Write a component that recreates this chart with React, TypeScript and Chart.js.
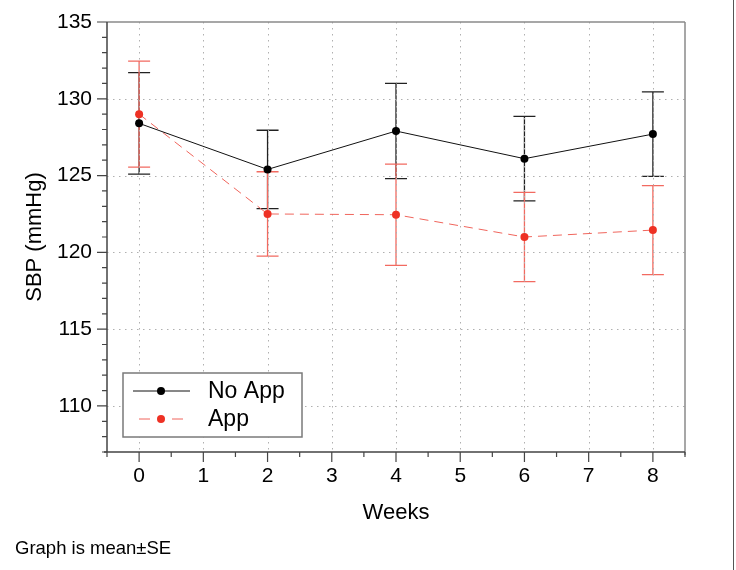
import React, { useEffect, useRef } from "react";
import { Chart, registerables } from "chart.js";

Chart.register(...registerables);

const weeks = [0, 2, 4, 6, 8];
const noAppMean = [128.4, 125.4, 127.9, 126.1, 127.7];
const noAppSE = [3.3, 2.55, 3.1, 2.75, 2.75];
const appMean = [129.0, 122.5, 122.45, 121.0, 121.45];
const appSE = [3.45, 2.75, 3.3, 2.9, 2.9];
const seriesNames = ["No App", "App"];
const xTickValues = [0, 1, 2, 3, 4, 5, 6, 7, 8];
const yTickValues = [110, 115, 120, 125, 130, 135];
const xTitle = "Weeks";
const yTitle = "SBP (mmHg)";
const footnote = "Graph is mean\u00b1SE";

const FONT = "'Liberation Sans', Arial, Helvetica, sans-serif";
const BLACK = "#111111";
const RED_LINE = "#f0655c";
const RED_PT = "#ee3124";
const RED_BAR = "#f26a60";

const errorBarsPlugin = {
  id: "errorBars",
  beforeDatasetsDraw(chart: any) {
    const { ctx, scales } = chart;
    const xs = scales.x;
    const ys = scales.y;
    const sets = [
      { m: noAppMean, se: noAppSE, c: "#222222" },
      { m: appMean, se: appSE, c: RED_BAR },
    ];
    ctx.save();
    for (const s of sets) {
      ctx.strokeStyle = s.c;
      ctx.lineWidth = 1.3;
      for (let i = 0; i < weeks.length; i++) {
        const x = xs.getPixelForValue(weeks[i]);
        const yt = ys.getPixelForValue(s.m[i] + s.se[i]);
        const yb = ys.getPixelForValue(s.m[i] - s.se[i]);
        ctx.beginPath();
        ctx.moveTo(x, yt);
        ctx.lineTo(x, yb);
        ctx.moveTo(x - 11, yt);
        ctx.lineTo(x + 11, yt);
        ctx.moveTo(x - 11, yb);
        ctx.lineTo(x + 11, yb);
        ctx.stroke();
      }
    }
    ctx.restore();
  },
};

const framePlugin = {
  id: "frame",
  beforeDatasetsDraw(chart: any) {
    const { ctx, chartArea: a, scales } = chart;
    const xs = scales.x;
    const ys = scales.y;
    ctx.save();
    ctx.strokeStyle = "#b0b0b0";
    ctx.lineWidth = 1;
    ctx.setLineDash([1.5, 4.5]);
    for (const v of xTickValues) {
      const x = Math.round(xs.getPixelForValue(v)) + 0.5;
      ctx.beginPath();
      ctx.moveTo(x, a.top);
      ctx.lineTo(x, a.bottom);
      ctx.stroke();
    }
    for (const v of yTickValues) {
      if (v === 135) continue;
      const y = Math.round(ys.getPixelForValue(v)) + 0.5;
      ctx.beginPath();
      ctx.moveTo(a.left, y);
      ctx.lineTo(a.right, y);
      ctx.stroke();
    }
    ctx.restore();
  },
  afterDraw(chart: any) {
    const { ctx, chartArea: a, scales } = chart;
    const xs = scales.x;
    const ys = scales.y;
    ctx.save();
    // top and right frame
    ctx.strokeStyle = "#8a8a8a";
    ctx.lineWidth = 1.5;
    ctx.beginPath();
    ctx.moveTo(a.left, a.top);
    ctx.lineTo(a.right, a.top);
    ctx.moveTo(a.right, a.top);
    ctx.lineTo(a.right, a.bottom + 3);
    ctx.stroke();
    // axes
    ctx.strokeStyle = "#444444";
    ctx.lineWidth = 1.5;
    ctx.beginPath();
    ctx.moveTo(a.left, a.top);
    ctx.lineTo(a.left, a.bottom);
    ctx.moveTo(a.left - 3, a.bottom);
    ctx.lineTo(a.right, a.bottom);
    ctx.stroke();
    // y ticks
    ctx.lineWidth = 1.2;
    ctx.beginPath();
    for (let v = Math.ceil(ys.min); v <= ys.max; v++) {
      const y = ys.getPixelForValue(v);
      const len = v % 5 === 0 ? 10 : 5;
      ctx.moveTo(a.left - len, y);
      ctx.lineTo(a.left, y);
    }
    // x ticks
    for (let v = xs.min; v <= xs.max + 1e-9; v += 0.5) {
      const x = xs.getPixelForValue(v);
      const len = Math.abs(v - Math.round(v)) < 1e-6 ? 10 : 5;
      ctx.moveTo(x, a.bottom);
      ctx.lineTo(x, a.bottom + len);
    }
    ctx.stroke();

    // legend
    const bx = 123, by = 373, bw = 179, bh = 64;
    ctx.fillStyle = "#ffffff";
    ctx.fillRect(bx, by, bw, bh);
    ctx.strokeStyle = "#7a7a7a";
    ctx.lineWidth = 1.5;
    ctx.strokeRect(bx, by, bw, bh);
    const r1 = by + 18, r2 = by + 46;
    ctx.strokeStyle = BLACK;
    ctx.lineWidth = 1;
    ctx.beginPath();
    ctx.moveTo(133, r1);
    ctx.lineTo(190, r1);
    ctx.stroke();
    ctx.fillStyle = "#000";
    ctx.beginPath();
    ctx.arc(161, r1, 4, 0, Math.PI * 2);
    ctx.fill();
    ctx.strokeStyle = RED_LINE;
    ctx.beginPath();
    ctx.moveTo(139, r2);
    ctx.lineTo(150, r2);
    ctx.moveTo(172, r2);
    ctx.lineTo(183, r2);
    ctx.stroke();
    ctx.fillStyle = RED_PT;
    ctx.beginPath();
    ctx.arc(161, r2, 4, 0, Math.PI * 2);
    ctx.fill();
    ctx.fillStyle = "#000";
    ctx.font = `23px ${FONT}`;
    ctx.textBaseline = "middle";
    ctx.textAlign = "left";
    ctx.fillText(seriesNames[0], 208, r1 + 1);
    ctx.fillText(seriesNames[1], 208, r2 + 1);
    ctx.restore();
  },
};

export default function App() {
  const ref = useRef<HTMLCanvasElement | null>(null);
  useEffect(() => {
    if (!ref.current) return;
    const chart = new Chart(ref.current, {
      type: "line",
      data: {
        datasets: [
          {
            label: seriesNames[0],
            data: weeks.map((w, i) => ({ x: w, y: noAppMean[i] })),
            borderColor: BLACK,
            borderWidth: 1,
            pointRadius: 4,
            pointBackgroundColor: "#000",
            pointBorderWidth: 0,
          },
          {
            label: seriesNames[1],
            data: weeks.map((w, i) => ({ x: w, y: appMean[i] })),
            borderColor: RED_LINE,
            borderWidth: 1,
            borderDash: [9, 6],
            pointRadius: 4,
            pointBackgroundColor: RED_PT,
            pointBorderWidth: 0,
          },
        ],
      },
      options: {
        responsive: false,
        animation: false,
        devicePixelRatio: 1,
        layout: { autoPadding: false, padding: { left: 0, top: 22, right: 51, bottom: 0 } },
        plugins: { legend: { display: false }, tooltip: { enabled: false } },
        scales: {
          x: {
            type: "linear",
            min: -0.5,
            max: 8.5,
            afterBuildTicks: (s: any) => {
              s.ticks = xTickValues.map((v) => ({ value: v }));
            },
            afterFit: (s: any) => {
              s.height = 118;
              s.paddingLeft = 0;
              s.paddingRight = 0;
            },
            grid: { display: false, drawTicks: false },
            border: { display: false },
            ticks: {
              color: "#000",
              font: { family: FONT, size: 21 },
              padding: 12,
              maxRotation: 0,
              autoSkip: false,
            },
            title: {
              display: true,
              text: xTitle,
              color: "#000",
              font: { family: FONT, size: 22 },
              padding: { top: 0, bottom: 44 },
            },
          },
          y: {
            type: "linear",
            min: 107,
            max: 135,
            afterBuildTicks: (s: any) => {
              s.ticks = yTickValues.map((v) => ({ value: v }));
            },
            afterFit: (s: any) => {
              s.width = 107;
              s.paddingTop = 0;
              s.paddingBottom = 0;
            },
            grid: { display: false, drawTicks: false },
            border: { display: false },
            ticks: {
              color: "#000",
              font: { family: FONT, size: 21 },
              padding: 15,
              autoSkip: false,
            },
            title: {
              display: true,
              text: yTitle,
              color: "#000",
              font: { family: FONT, size: 22 },
              padding: { top: 22, bottom: 0 },
            },
          },
        },
      },
      plugins: [errorBarsPlugin, framePlugin],
    } as any);
    return () => chart.destroy();
  }, []);

  return (
    <div
      style={{
        position: "fixed",
        left: 0,
        top: 0,
        width: 736,
        height: 570,
        background: "#fff",
        overflow: "hidden",
      }}
    >
      <canvas
        ref={ref}
        width={736}
        height={570}
        style={{ position: "absolute", left: 0, top: 0, width: 736, height: 570 }}
      />
      <div
        style={{
          position: "absolute",
          left: 15,
          top: 537,
          fontFamily: FONT,
          fontSize: 18.5,
          lineHeight: "22px",
          color: "#000",
          whiteSpace: "nowrap",
        }}
      >
        {footnote}
      </div>
      <div
        style={{
          position: "absolute",
          left: 733,
          top: 0,
          width: 1,
          height: 570,
          background: "#555",
        }}
      />
    </div>
  );
}
